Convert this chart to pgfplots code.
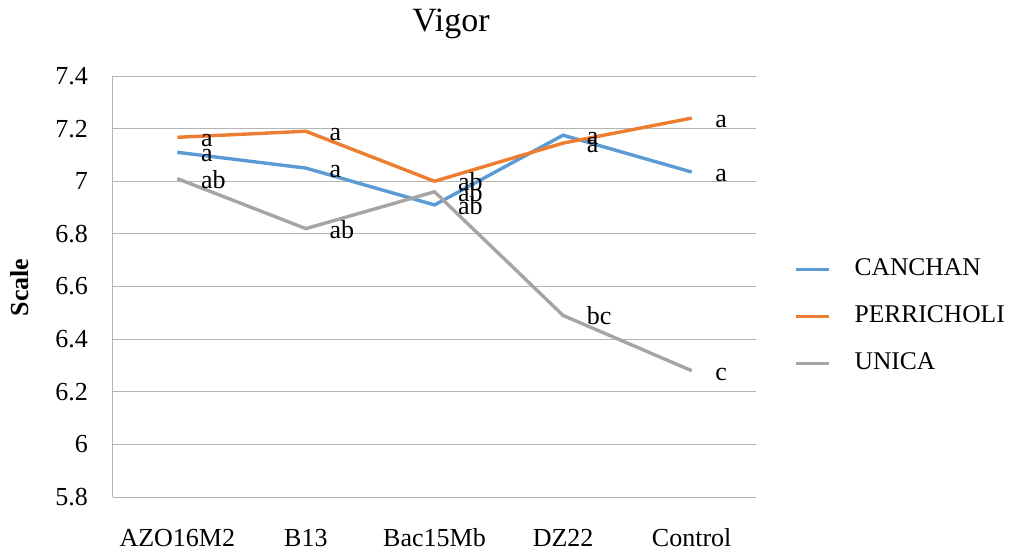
\documentclass[border=0pt]{standalone}
\usepackage{pgfplots}
\pgfplotsset{compat=1.18}
\usepackage{fontspec}
\setmainfont{Liberation Serif}
\definecolor{cblue}{RGB}{91,155,213}
\definecolor{corange}{RGB}{237,125,49}
\definecolor{cgray}{RGB}{165,165,165}
\definecolor{cgrid}{RGB}{180,180,180}
\begin{document}
\begin{tikzpicture}[x=1pt,y=1pt]
\useasboundingbox (0,0) rectangle (1013,550);
\begin{axis}[
  at={(113pt,53pt)}, anchor=south west,
  scale only axis, width=643pt, height=421pt,
  xmin=-0.5, xmax=4.5, ymin=5.8, ymax=7.4,
  xtick={0,1,2,3,4},
  xticklabels={AZO16M2,B13,Bac15Mb,DZ22,Control},
  ytick={5.8,6,6.2,6.4,6.6,6.8,7,7.2,7.4},
  yticklabels={5.8,6,6.2,6.4,6.6,6.8,7,7.2,7.4},
  axis x line*=bottom, axis y line*=left,
  axis line style={draw=cgrid, line width=1pt, -},
  major tick length=0pt,
  ymajorgrids, grid style={draw=cgrid, line width=1pt},
  yticklabel style={font=\fontsize{26pt}{30pt}\selectfont, anchor=east, inner sep=0pt, xshift=-25pt},
  xticklabel style={font=\fontsize{26pt}{30pt}\selectfont, anchor=base, inner sep=0pt, yshift=-49pt},
  title={Vigor},
  title style={font=\fontsize{34pt}{40pt}\selectfont, at={(axis description cs:0.5257,1.0903)}, anchor=base, inner sep=0pt},
  ylabel={\textbf{Scale}},
  ylabel style={font=\fontsize{26pt}{30pt}\selectfont, at={(axis description cs:-0.1446,0.4976)}, anchor=center, inner sep=0pt},
  clip=false,
  legend style={at={(axis description cs:1.0591,0.4288)}, anchor=west, draw=none, fill=none,
    font=\fontsize{25.5pt}{30pt}\selectfont, inner sep=0pt, row sep=24pt,
    nodes={inner sep=0pt, text height=17.5pt, text depth=5.5pt},
    /tikz/every odd column/.append style={column sep=24pt}},
  legend cell align=left,
  legend image code/.code={\draw[line width=3.4pt] (0pt,0pt) -- (33pt,0pt);},
  nodes near coords,
  point meta=explicit symbolic,
  every node near coord/.append style={anchor=west, xshift=22pt, inner sep=0pt, text=black,
    font=\fontsize{26pt}{30pt}\selectfont, text height=19pt, text depth=0pt},
]
\addplot[cblue, line width=3.4pt, mark=none] table[x=x, y=y, meta=l] {
x y l
0 7.110 a
1 7.050 a
2 6.910 ab
3 7.175 a
4 7.035 a
};
\addlegendentry{CANCHAN}
\addplot[corange, line width=3.4pt, mark=none] table[x=x, y=y, meta=l] {
x y l
0 7.167 a
1 7.190 a
2 7.000 ab
3 7.145 a
4 7.240 a
};
\addlegendentry{PERRICHOLI}
\addplot[cgray, line width=3.4pt, mark=none] table[x=x, y=y, meta=l] {
x y l
0 7.010 ab
1 6.820 ab
2 6.960 ab
3 6.490 bc
4 6.280 c
};
\addlegendentry{UNICA}
\end{axis}
\end{tikzpicture}
\end{document}
